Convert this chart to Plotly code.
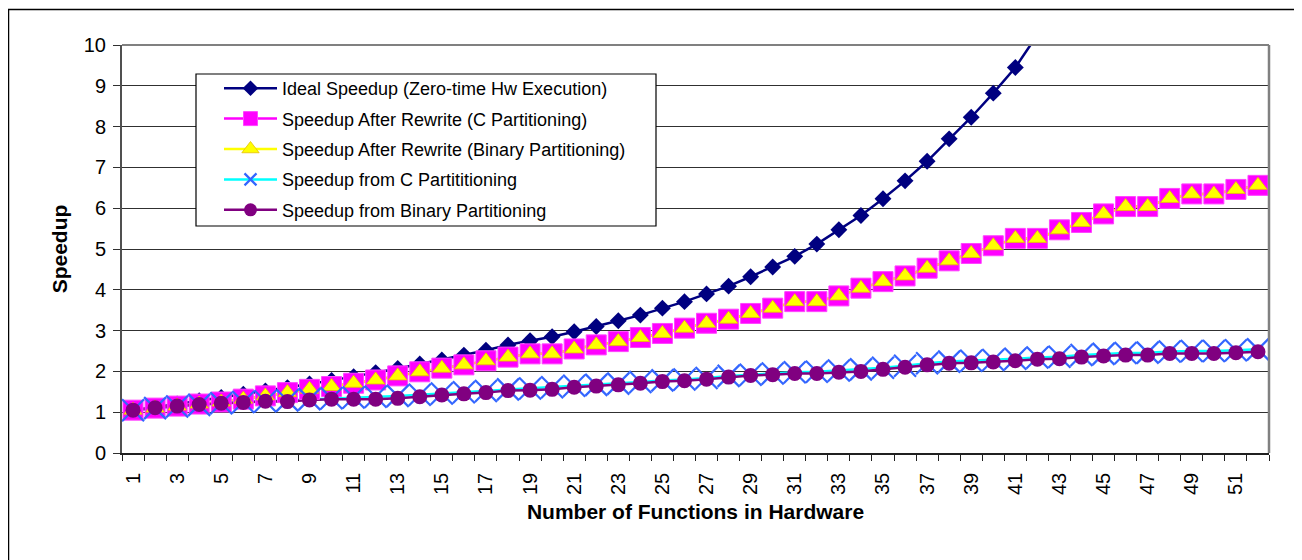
import plotly.graph_objects as go

categories = list(range(1, 53))
tick_labels = [str(c) for c in range(1, 53, 2)]

ideal = [1.05, 1.12, 1.20, 1.28, 1.36, 1.44, 1.52, 1.60, 1.69, 1.78,
         1.87, 1.97, 2.07, 2.18, 2.28, 2.40, 2.52, 2.65, 2.75, 2.85,
         2.97, 3.10, 3.24, 3.38, 3.55, 3.71, 3.90, 4.09, 4.32, 4.56,
         4.82, 5.12, 5.47, 5.82, 6.23, 6.67, 7.15, 7.70, 8.23, 8.82,
         9.45, 10.25]

rewrite_c = [1.05, 1.10, 1.15, 1.20, 1.25, 1.32, 1.40, 1.48, 1.56, 1.63,
             1.71, 1.79, 1.89, 1.99, 2.08, 2.16, 2.26, 2.35, 2.43, 2.43,
             2.55, 2.65, 2.73, 2.83, 2.93, 3.06, 3.18, 3.28, 3.42, 3.55,
             3.71, 3.71, 3.85, 4.04, 4.20, 4.34, 4.53, 4.71, 4.89, 5.08,
             5.26, 5.26, 5.47, 5.65, 5.86, 6.04, 6.04, 6.24, 6.35, 6.35,
             6.46, 6.56]

rewrite_bin = [1.05, 1.10, 1.15, 1.20, 1.25, 1.32, 1.40, 1.48, 1.56, 1.63,
               1.71, 1.79, 1.89, 1.99, 2.08, 2.16, 2.26, 2.35, 2.43, 2.43,
               2.55, 2.65, 2.73, 2.83, 2.93, 3.06, 3.18, 3.28, 3.42, 3.55,
               3.71, 3.71, 3.85, 4.04, 4.20, 4.34, 4.53, 4.71, 4.89, 5.08,
               5.26, 5.26, 5.47, 5.65, 5.86, 6.04, 6.04, 6.24, 6.35, 6.35,
               6.46, 6.56]

part_c = [1.05, 1.10, 1.14, 1.18, 1.22, 1.25, 1.27, 1.29, 1.32, 1.34,
          1.36, 1.38, 1.40, 1.43, 1.46, 1.49, 1.52, 1.56, 1.58, 1.61,
          1.65, 1.67, 1.70, 1.74, 1.78, 1.80, 1.84, 1.89, 1.92, 1.95,
          1.98, 1.99, 2.02, 2.05, 2.09, 2.14, 2.20, 2.24, 2.26, 2.28,
          2.31, 2.34, 2.36, 2.40, 2.43, 2.45, 2.46, 2.49, 2.50, 2.50,
          2.52, 2.54]

part_bin = [1.05, 1.11, 1.15, 1.19, 1.22, 1.24, 1.27, 1.26, 1.30, 1.32,
            1.32, 1.32, 1.34, 1.38, 1.42, 1.45, 1.48, 1.53, 1.54, 1.56,
            1.61, 1.64, 1.67, 1.71, 1.75, 1.77, 1.81, 1.86, 1.90, 1.92,
            1.95, 1.95, 1.98, 2.00, 2.05, 2.10, 2.16, 2.20, 2.21, 2.23,
            2.26, 2.30, 2.31, 2.35, 2.38, 2.40, 2.40, 2.44, 2.44, 2.44,
            2.46, 2.48]

names = ["Ideal Speedup (Zero-time Hw Execution)",
         "Speedup After Rewrite (C Partitioning)",
         "Speedup After Rewrite (Binary Partitioning)",
         "Speedup from C Partititioning",
         "Speedup from Binary Partitioning"]

FONT = "Liberation Sans, Arial, sans-serif"

series = [
    dict(y=ideal, name=names[0], lc="#000080", lw=2.5,
         mk=dict(symbol="diamond", size=13, color="#000080")),
    dict(y=rewrite_c, name=names[1], lc="#FF00FF", lw=2.5,
         mk=dict(symbol="square", size=20, color="#FF00FF",
                 line=dict(color="#FF44FF", width=1))),
    dict(y=rewrite_bin, name=names[2], lc="#FFFF00", lw=2.5,
         mk=dict(symbol="triangle-up", size=16, color="#FFFF00",
                 line=dict(color="#E6C000", width=0.8))),
    dict(y=part_c, name=names[3], lc="#00FFFF", lw=2.5,
         mk=dict(symbol="x-thin", size=22, color="#3366FF",
                 line=dict(color="#3366FF", width=2.2))),
    dict(y=part_bin, name=names[4], lc="#800080", lw=2.5,
         mk=dict(symbol="circle", size=15, color="#800080")),
]

legend_marker_sizes = [12, 14, 15, 12, 13]

fig = go.Figure()
# legend-only entries
for i, s in enumerate(series):
    mk = dict(s["mk"])
    mk["size"] = legend_marker_sizes[i]
    fig.add_trace(go.Scatter(
        x=[None], y=[None], name=s["name"], mode="lines+markers",
        line=dict(color=s["lc"], width=s["lw"]), marker=mk,
        legendgroup="g%d" % i, showlegend=True, hoverinfo="skip"))
# lines first (all series), then markers
for i, s in enumerate(series):
    fig.add_trace(go.Scatter(
        x=categories[:len(s["y"])], y=s["y"], name=s["name"], mode="lines",
        line=dict(color=s["lc"], width=s["lw"]),
        legendgroup="g%d" % i, showlegend=False))
for i, s in enumerate(series):
    fig.add_trace(go.Scatter(
        x=categories[:len(s["y"])], y=s["y"], name=s["name"], mode="markers",
        marker=s["mk"], legendgroup="g%d" % i, showlegend=False))

OFF = 8  # page body margin
W, H = 1302 - OFF, 560 - OFF
L, R, T, B = 122 - OFF, 1269 - OFF, 45 - OFF, 453 - OFF
def px_x(p):
    return (p - OFF - L) / (R - L)
def px_y(p):
    return (B - (p - OFF)) / (B - T)

fig.update_layout(
    width=W, height=H,
    margin=dict(l=L, r=W - R, t=T, b=H - B, pad=0),
    paper_bgcolor="white", plot_bgcolor="white",
    font=dict(family=FONT, size=18, color="black"),
    showlegend=True,
    legend=dict(
        x=px_x(219), y=px_y(70), xanchor="left", yanchor="top",
        bgcolor="rgba(0,0,0,0)", borderwidth=0,
        font=dict(family=FONT, size=18, color="black"),
        traceorder="grouped", tracegroupgap=4, itemwidth=53,
    ),
    xaxis=dict(
        range=[0.5, 52.5], tickmode="array",
        tickvals=list(range(1, 53, 2)), ticktext=tick_labels,
        tickangle=-90, ticks="", showgrid=False, zeroline=False,
        showline=True, linecolor="#202020", linewidth=1.5,
        tickfont=dict(family=FONT, size=20), ticklabelstandoff=10,
        minor=dict(tick0=0.5, dtick=1, ticks="outside", ticklen=6,
                   tickcolor="#202020", tickwidth=1, showgrid=False),
        title=dict(text="Number of Functions in Hardware",
                   font=dict(family=FONT, size=21, weight="bold"), standoff=10),
    ),
    yaxis=dict(
        range=[0, 10], dtick=1, tick0=0,
        showgrid=True, gridcolor="#303030", gridwidth=1,
        zeroline=False, showline=True, linecolor="#505050", linewidth=2,
        ticks="outside", ticklen=7, tickcolor="#303030", tickwidth=1,
        tickfont=dict(family=FONT, size=20), ticklabelstandoff=3,
        title=dict(text="Speedup",
                   font=dict(family=FONT, size=21, weight="bold"), standoff=10),
    ),
    shapes=[
        dict(type="line", xref="paper", yref="paper", x0=0, x1=1, y0=1, y1=1,
             line=dict(color="#808080", width=2), layer="above"),
        dict(type="line", xref="paper", yref="paper", x0=1, x1=1, y0=0, y1=1,
             line=dict(color="#808080", width=2.5), layer="above"),
        dict(type="rect", xref="paper", yref="paper",
             x0=px_x(196), x1=px_x(656), y0=px_y(226), y1=px_y(74),
             fillcolor="white", line=dict(color="black", width=1.2),
             layer="above"),
        dict(type="rect", xref="paper", yref="paper",
             x0=px_x(8.5), x1=px_x(1340), y0=px_y(620), y1=px_y(9.5),
             line=dict(color="black", width=1.5), layer="below"),
    ],
)

fig.write_html("out.html")
